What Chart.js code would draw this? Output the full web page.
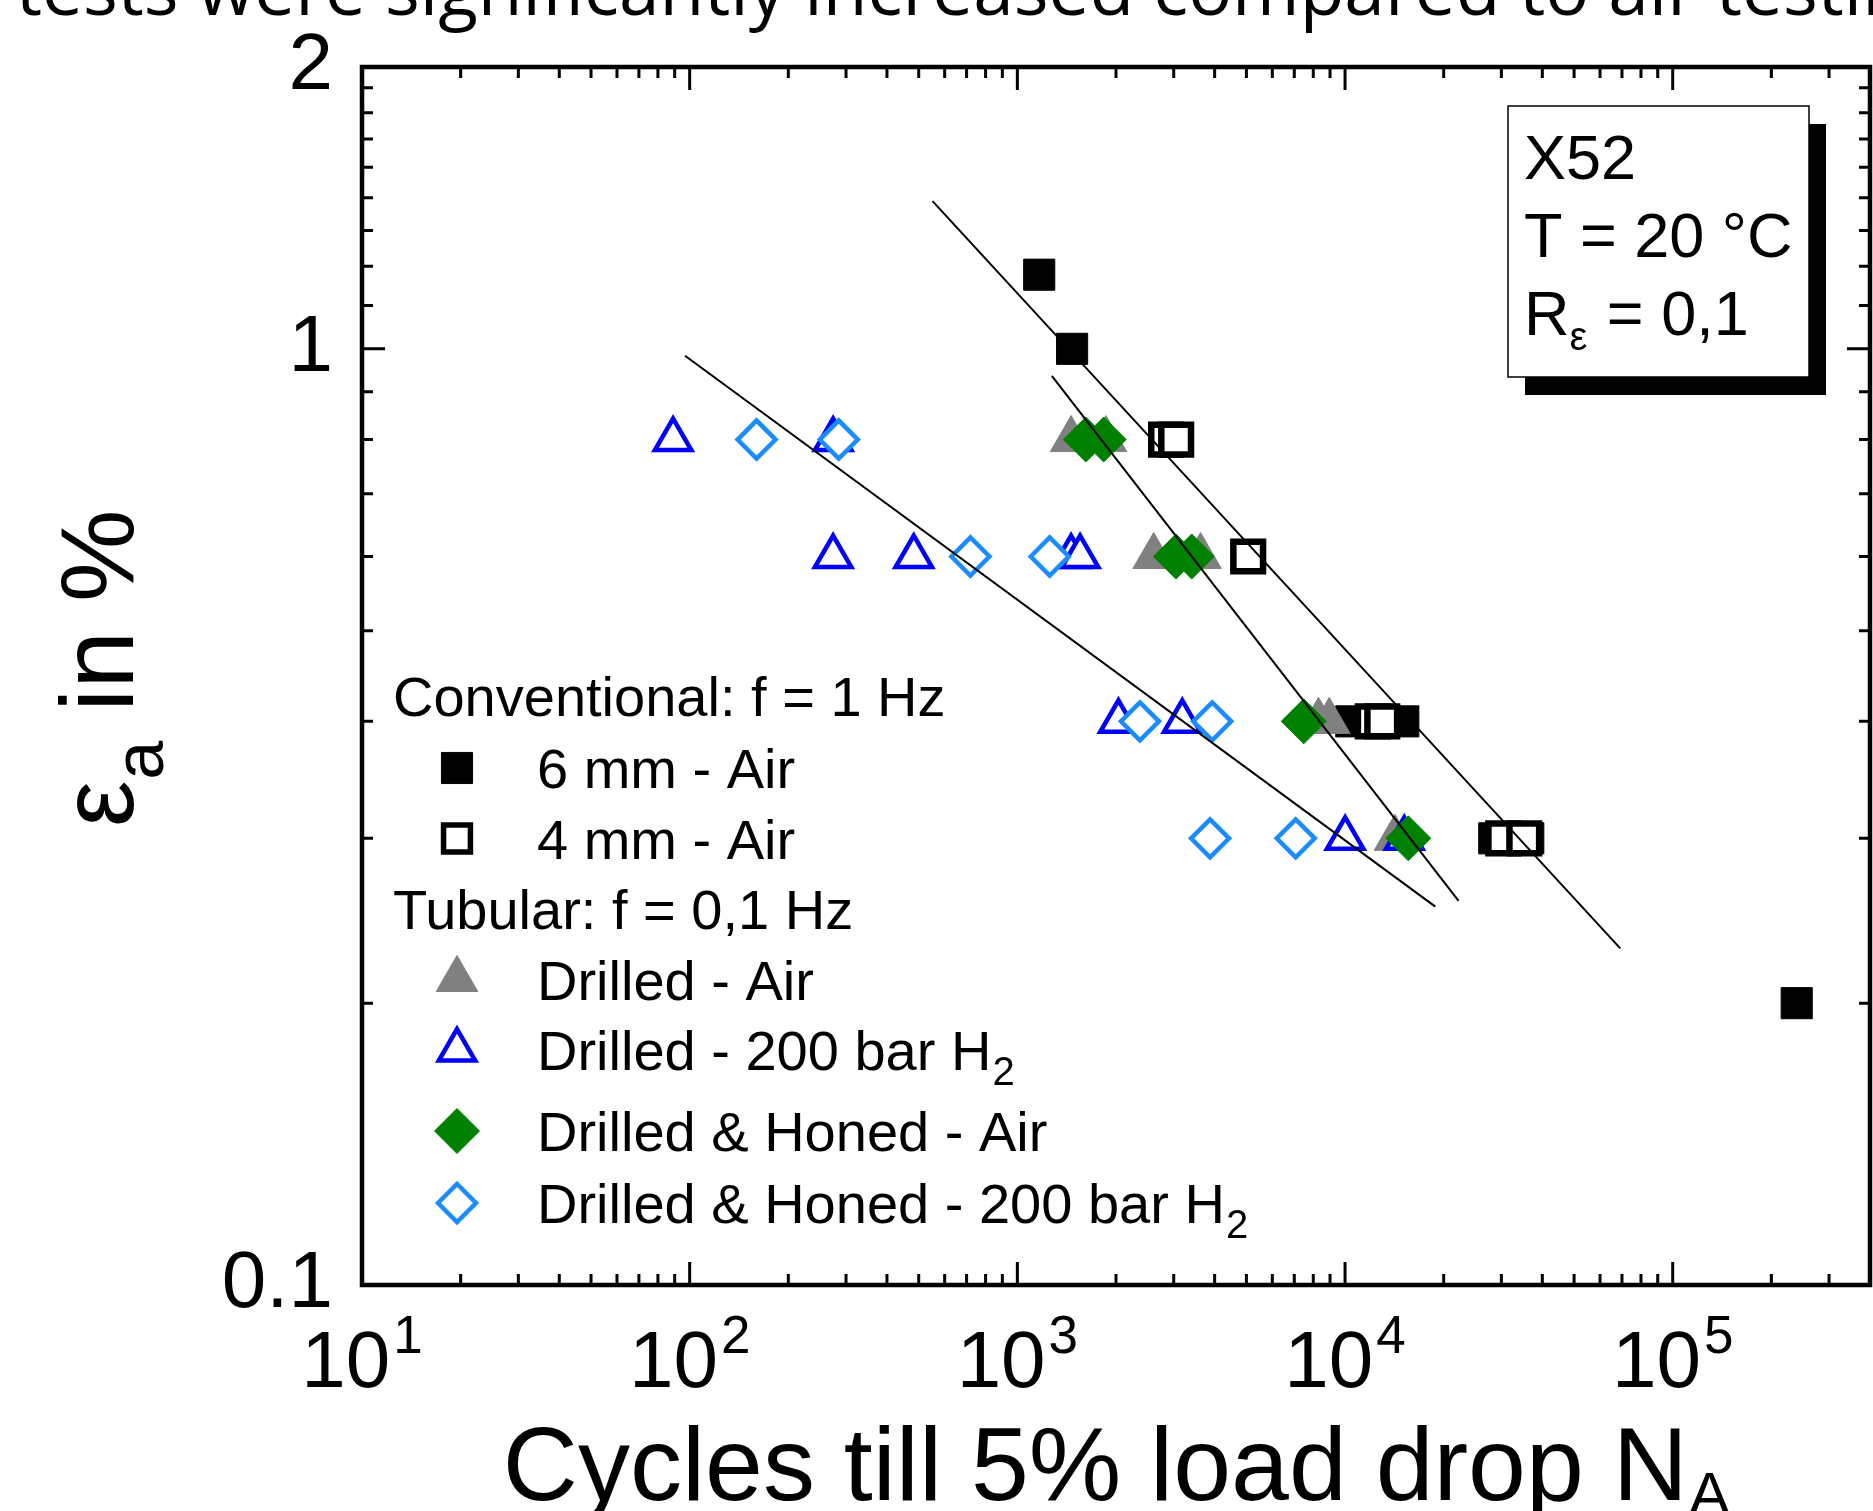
<!DOCTYPE html>
<html><head><meta charset="utf-8">
<script src="https://cdn.jsdelivr.net/npm/chart.js@4.4.1/dist/chart.umd.min.js"></script>
<style>html,body{margin:0;padding:0;background:#fff;overflow:hidden}#wrap{position:relative;width:1873px;height:1511px;background:#fff}</style>
</head><body><div id="wrap"><canvas id="c" width="1873" height="1511"></canvas></div>
<script>
// ---------------- data ----------------
// Conventional 6 mm - Air (filled squares)
const sq6N = [1166, 1469, 10450, 15060, 28540, 36240, 239000];
const sq6E = [1.2, 1.0, 0.4, 0.4, 0.3, 0.3, 0.2];
// Conventional 4 mm - Air (open squares)
const sq4N = [2844, 3052, 5064, 12150, 12990, 30400, 35240];
const sq4E = [0.8, 0.8, 0.6, 0.4, 0.4, 0.3, 0.3];
// Tubular Drilled - Air (grey triangles)
const drAirN = [1459, 1864, 2606, 3623, 8300, 8950, 14200];
const drAirE = [0.8, 0.8, 0.6, 0.6, 0.4, 0.4, 0.3];
// Tubular Drilled - 200 bar H2 (open blue triangles)
const drH2N = [89, 274, 274, 483, 1459, 1554, 2035, 3186, 10010, 15160];
const drH2E = [0.8, 0.8, 0.6, 0.6, 0.6, 0.6, 0.4, 0.4, 0.3, 0.3];
// Tubular Drilled & Honed - Air (green diamonds)
const dhAirN = [1618, 1834, 3047, 3404, 7480, 15600];
const dhAirE = [0.8, 0.8, 0.6, 0.6, 0.4, 0.3];
// Tubular Drilled & Honed - 200 bar H2 (open light-blue diamonds)
const dhH2N = [160, 285, 719, 1255, 2366, 3932, 3873, 7071];
const dhH2E = [0.8, 0.8, 0.6, 0.6, 0.4, 0.4, 0.3, 0.3];
// fitted lines (end points)
const fit1N = [551, 69180];  const fit1E = [1.438, 0.2289];
const fit2N = [1274, 22210]; const fit2E = [0.9354, 0.2572];
const fit3N = [96.8, 18860]; const fit3E = [0.9832, 0.2536];

// axes / ticks
const xMajorTicks = [10, 100, 1000, 10000, 100000];
const xTickExp = ['1', '2', '3', '4', '5'];
const xMinorTicks = [20,30,40,50,60,70,80,90,200,300,400,500,600,700,800,900,
  2000,3000,4000,5000,6000,7000,8000,9000,20000,30000,40000,50000,60000,70000,80000,90000,200000,300000];
const yTickValues = [0.1, 1, 2];
const yTickText = ['0.1', '1', '2'];
const yMinorTicks = [0.2,0.3,0.4,0.5,0.6,0.7,0.8,0.9,1.1125,1.225,1.3375,1.45,1.5625,1.675,1.7875,1.9];

// texts
const topText = 'tests were significantly increased compared to air testin';
const xTitle = 'Cycles till 5% load drop N';
const xTitleSub = 'A';
const legendHeaders = ['Conventional: f = 1 Hz', 'Tubular: f = 0,1 Hz'];
const seriesNames = ['6 mm - Air', '4 mm - Air', 'Drilled - Air', 'Drilled - 200 bar H', 'Drilled & Honed - Air', 'Drilled & Honed - 200 bar H'];
const seriesSubs = ['', '', '', '2', '', '2'];
const infoLines = ['X52', 'T = 20 °C'];

// ---------------- chart ----------------
const mk = (N, E) => N.map((n, i) => ({x: n, y: E[i]}));
const FONT = '"Liberation Sans", Arial, sans-serif';

const styles = [
  {pointStyle:'rect', pointRadius:22, borderWidth:1, borderColor:'#000', backgroundColor:'#000'},
  {pointStyle:'rect', pointRadius:21, borderWidth:6.5, borderColor:'#000', backgroundColor:'#fff'},
  {pointStyle:'triangle', pointRadius:24, borderWidth:1, borderColor:'#808080', backgroundColor:'#808080'},
  {pointStyle:'triangle', pointRadius:21, borderWidth:4.5, borderColor:'#0000ff', backgroundColor:'#fff'},
  {pointStyle:'rectRot', pointRadius:22.5, borderWidth:1, borderColor:'#008000', backgroundColor:'#008000'},
  {pointStyle:'rectRot', pointRadius:19, borderWidth:4.5, borderColor:'#1a8cff', backgroundColor:'#fff'}
];
// legend symbol tweaks (open square drawn a bit smaller in the key)
const legendStyles = styles.map((s, i) => i === 1 ? Object.assign({}, s, {pointRadius: 19, borderWidth: 5.5}) : s);
const seriesData = [mk(sq6N,sq6E), mk(sq4N,sq4E), mk(drAirN,drAirE), mk(drH2N,drH2E), mk(dhAirN,dhAirE), mk(dhH2N,dhH2E)];
const seriesOrder = [7, 6, 5, 4, 3, 2];

const datasets = [];
[[fit1N,fit1E],[fit2N,fit2E],[fit3N,fit3E]].forEach((f, i) => {
  datasets.push({label:'fit'+(i+1), data: mk(f[0], f[1]), showLine:true, borderColor:'#000', borderWidth:2,
    pointRadius:0, pointHoverRadius:0, order:1});
});
seriesData.forEach((d, i) => {
  const s = styles[i];
  datasets.push({label: seriesNames[i] + seriesSubs[i], data: d, showLine:false,
    pointStyle: s.pointStyle, pointRadius: s.pointRadius, pointHoverRadius: s.pointRadius,
    pointBorderWidth: s.borderWidth, borderWidth: s.borderWidth,
    borderColor: s.borderColor, backgroundColor: s.backgroundColor,
    pointBorderColor: s.borderColor, pointBackgroundColor: s.backgroundColor, order: seriesOrder[i]});
});

function drawMarker(ctx, s, x, y) {
  ctx.save();
  ctx.fillStyle = s.backgroundColor; ctx.strokeStyle = s.borderColor; ctx.lineWidth = s.borderWidth;
  Chart.helpers.drawPoint(ctx, {pointStyle: s.pointStyle, radius: s.pointRadius, rotation: 0, borderWidth: s.borderWidth}, x, y);
  ctx.restore();
}
function textWithSub(ctx, main, sub, x, y, size, subSize, subDy) {
  ctx.font = size + 'px ' + FONT;
  ctx.fillText(main, x, y);
  if (sub) {
    const w = ctx.measureText(main).width;
    ctx.font = subSize + 'px ' + FONT;
    ctx.fillText(sub, x + w + 1, y + subDy);
  }
}

const decor = {
  id: 'decor',
  afterDraw(chart) {
    const ctx = chart.ctx, xs = chart.scales.x, ys = chart.scales.y, a = chart.chartArea;
    ctx.save();
    ctx.fillStyle = '#000'; ctx.strokeStyle = '#000';
    // ticks (inward, all four sides)
    ctx.lineWidth = 3;
    ctx.beginPath();
    const tick = (list, len) => list.forEach(v => {
      const p = xs.getPixelForValue(v);
      ctx.moveTo(p, a.bottom); ctx.lineTo(p, a.bottom - len);
      ctx.moveTo(p, a.top); ctx.lineTo(p, a.top + len);
    });
    tick(xMajorTicks, 23); tick(xMinorTicks, 11);
    const ytick = (list, len) => list.forEach(v => {
      const p = ys.getPixelForValue(v);
      ctx.moveTo(a.left, p); ctx.lineTo(a.left + len, p);
      ctx.moveTo(a.right, p); ctx.lineTo(a.right - len, p);
    });
    ytick(yTickValues, 23); ytick(yMinorTicks, 11);
    ctx.stroke();
    // frame
    ctx.lineWidth = 4.5;
    ctx.strokeRect(a.left, a.top, a.right - a.left, a.bottom - a.top);

    // x tick labels 10^n
    ctx.textAlign = 'left'; ctx.textBaseline = 'alphabetic';
    xMajorTicks.forEach((v, i) => {
      const p = xs.getPixelForValue(v);
      ctx.font = '80px ' + FONT; const w1 = ctx.measureText('10').width;
      ctx.font = '53px ' + FONT; const w2 = ctx.measureText(xTickExp[i]).width;
      const x0 = p - (w1 + 3 + w2) / 2;
      ctx.font = '80px ' + FONT; ctx.fillText('10', x0, a.bottom + 102);
      ctx.font = '53px ' + FONT; ctx.fillText(xTickExp[i], x0 + w1 + 3, a.bottom + 68);
    });

    // x title
    ctx.font = '104px ' + FONT; const wt = ctx.measureText(xTitle).width;
    ctx.font = '62px ' + FONT; const ws = ctx.measureText(xTitleSub).width;
    const cx = (a.left + a.right) / 2;
    const tx = cx - (wt + ws) / 2;
    textWithSub(ctx, xTitle, xTitleSub, tx, 1500, 104, 62, 15);

    // y title (rotated)
    ctx.save();
    ctx.translate(133, 827); ctx.rotate(-Math.PI / 2);
    ctx.font = '104px ' + FONT; ctx.fillText('ε', 0, 0);
    let w = ctx.measureText('ε').width;
    ctx.font = '70px ' + FONT; ctx.fillText('a', w + 1, 30); w += ctx.measureText('a').width + 1;
    ctx.font = '104px ' + FONT; ctx.fillText(' in %', w, 0);
    ctx.restore();

    // top (cropped) document text
    ctx.font = '73px "Open Sans", sans-serif';
    ctx.fillText(topText, 16, 15);

    // info box
    ctx.fillStyle = '#000'; ctx.fillRect(1525, 124, 301, 271);
    ctx.fillStyle = '#fff'; ctx.fillRect(1508, 106, 301, 271);
    ctx.lineWidth = 1.5; ctx.strokeStyle = '#000'; ctx.strokeRect(1508, 106, 301, 271);
    ctx.fillStyle = '#000';
    ctx.font = '63px ' + FONT;
    ctx.fillText(infoLines[0], 1524, 179);
    ctx.fillText(infoLines[1], 1524, 257);
    ctx.fillText('R', 1524, 335);
    const wr = ctx.measureText('R').width;
    ctx.font = '40px ' + FONT; ctx.fillText('ε', 1524 + wr, 350);
    const we = ctx.measureText('ε').width;
    ctx.font = '63px ' + FONT; ctx.fillText(' = 0,1', 1524 + wr + we + 2, 335);

    // legend
    const rowY = [696, 768, 838.5, 909, 979.5, 1050, 1131, 1203];
    const rows = [
      {h: 0}, {s: 0}, {s: 1}, {h: 1}, {s: 2}, {s: 3}, {s: 4}, {s: 5}
    ];
    rows.forEach((r, k) => {
      const y = rowY[k];
      ctx.fillStyle = '#000';
      if (r.h !== undefined) {
        ctx.font = '56px ' + FONT; ctx.fillText(legendHeaders[r.h], 393, y + 20);
      } else {
        drawMarker(ctx, legendStyles[r.s], 457, y);
        ctx.fillStyle = '#000';
        textWithSub(ctx, seriesNames[r.s], seriesSubs[r.s], 537, y + 20, 56, 40, 15);
      }
    });
    ctx.restore();
  }
};

new Chart(document.getElementById('c'), {
  type: 'scatter',
  data: {datasets},
  options: {
    responsive: false, animation: false, devicePixelRatio: 1, events: [],
    layout: {autoPadding: false, padding: {top: 67, right: 3, left: 0, bottom: 0}},
    plugins: {legend: {display: false}, tooltip: {enabled: false}, title: {display: false}},
    scales: {
      x: {type: 'logarithmic', position: 'bottom', min: 10, max: 400000,
        grid: {display: false, drawTicks: false}, border: {display: false},
        ticks: {display: false}, afterFit(s) { s.height = 226; }},
      y: {type: 'logarithmic', position: 'left', min: 0.1, max: 2,
        grid: {display: false, drawTicks: false}, border: {display: false},
        ticks: {display: true, autoSkip: false, padding: 29, color: '#000',
          font: {family: 'Liberation Sans', size: 80, lineHeight: 0.3},
          callback: (v, i) => yTickText[i]},
        afterBuildTicks(s) { s.ticks = yTickValues.map(v => ({value: v})); },
        afterFit(s) { s.width = 362; s.paddingTop = 0; s.paddingBottom = 0; }}
    }
  },
  plugins: [decor]
});
</script></body></html>
